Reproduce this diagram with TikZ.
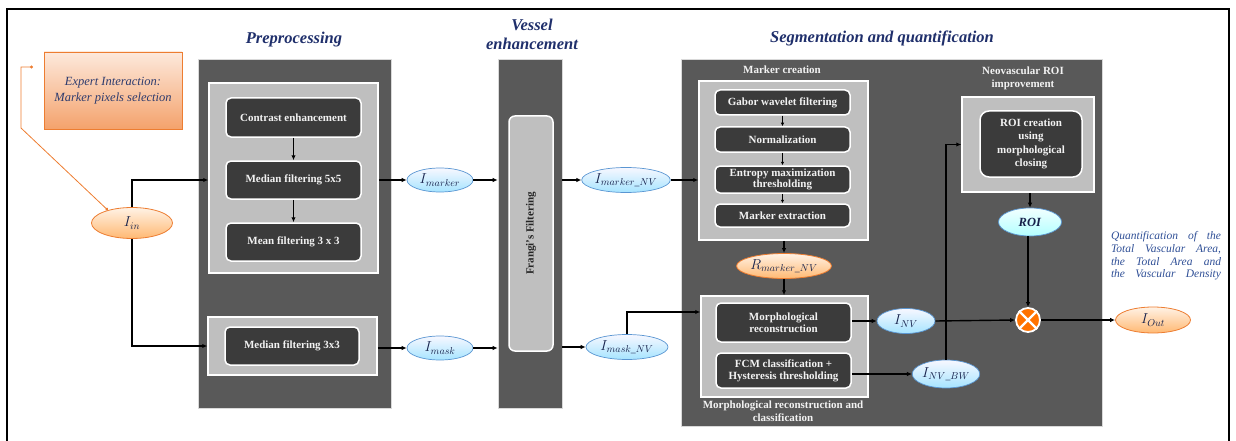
\documentclass[tikz,border=0pt]{standalone}
\usepackage{amsmath, amssymb}
\usepackage{fontspec}
\setmainfont{Liberation Serif}
\usepackage{tikz}
\usetikzlibrary{shapes.geometric, arrows.meta, positioning, calc}
\usepackage{xcolor}

\definecolor{panelgray}{HTML}{595959}
\definecolor{lightpanel}{HTML}{BFBFBF}
\definecolor{boxgray}{HTML}{3B3B3B}
\definecolor{navytitle}{HTML}{1F2F6B}
\definecolor{quantblue}{HTML}{2F4F96}
\definecolor{orangeline}{HTML}{ED7D31}
\definecolor{blueline}{HTML}{5A96D2}
\definecolor{peachtop}{HTML}{FDE9DC}
\definecolor{peachbottom}{HTML}{F4A26C}

\tikzset{
  panel/.style={fill=panelgray, draw=white!85!black, line width=0.6pt, inner sep=0pt},
  subpanel/.style={fill=lightpanel, draw=white, line width=1.5pt, inner sep=0pt},
  procbox/.style={fill=boxgray, draw=white, line width=1.5pt, rounded corners=5pt,
    text=white!95!black, align=center, inner sep=1pt,
    font=\fontsize{11}{12.3}\selectfont\bfseries},
  panellabel/.style={text=white!95!black, align=center, font=\fontsize{11}{13}\selectfont\bfseries},
  steptitle/.style={text=navytitle, align=center, font=\fontsize{16.5}{19}\selectfont\bfseries\itshape},
  bluedata/.style={ellipse, draw=blueline, line width=0.7pt, top color=blue!3,
    bottom color=blue!30!cyan!35, inner sep=0pt, text=navytitle!70!black, font=\fontsize{14}{15}\selectfont},
  cyandata/.style={bluedata, top color=cyan!5, bottom color=cyan!30},
  orangedata/.style={ellipse, draw=orangeline, line width=0.8pt, top color=orange!10,
    bottom color=orange!55!white, inner sep=0pt, text=navytitle!70!black, font=\fontsize{14}{15}\selectfont},
  flow/.style={-{Latex[length=5pt,width=4.5pt]}, line width=1.4pt, black},
  smallflow/.style={-{Latex[length=3.5pt,width=3.5pt]}, line width=1.1pt, black}
}

\begin{document}
\begin{tikzpicture}[x=1pt, y=-1pt]
\useasboundingbox (0,0) rectangle (1236,441);
\draw[line width=1.2pt] (7,450) -- (7,9) -- (1229,9) -- (1229,450);

% titles
\node[steptitle] (tprep) at (294,40) {Preprocessing};
\node[steptitle, font=\fontsize{16.5}{19}\selectfont\bfseries\itshape] (tvessel) at (532,34) {Vessel\\enhancement};
\node[steptitle] (tseg) at (882,38) {Segmentation and quantification};

% expert interaction
\node[draw=orangeline, line width=0.8pt, top color=peachtop, bottom color=peachbottom,
  minimum width=138pt, minimum height=77pt, align=center, text=navytitle!85!gray,
  font=\fontsize{12.5}{15.5}\selectfont\itshape] (expert) at (113,90.5)
  {Expert Interaction:\\Marker pixels selection};
\node[orangedata, minimum width=81pt, minimum height=31pt] (Iin) at (132,223) {$I_{in}$};
\coordinate (expdot) at (33,67);
\coordinate (expbend) at (21,67);
\coordinate (expknee) at (21,128);
\draw[orangeline, line width=0.8pt, {Circle[length=3pt]}-{Circle[length=3pt]}]
  (expdot) -- (expbend) -- (expknee) -- (Iin.152);

% preprocessing
\node[panel, minimum width=193pt, minimum height=349pt] (prep) at (294.5,233.5) {};
\node[subpanel, minimum width=169pt, minimum height=190pt] (prepup) at (293.5,178) {};
\node[procbox, minimum width=135pt, minimum height=39pt] (contrast) at (293.5,117.5) {Contrast enhancement};
\node[procbox, minimum width=135pt, minimum height=38pt] (median5) at (293.5,180) {Median filtering 5x5};
\node[procbox, minimum width=135pt, minimum height=38pt] (mean3) at (293.5,242) {Mean filtering 3 x 3};
\node[subpanel, minimum width=169pt, minimum height=58pt] (preplow) at (292.5,346) {};
\node[procbox, minimum width=134pt, minimum height=38pt] (median3) at (292,346) {Median filtering 3x3};

\draw[flow] (contrast) -- (median5);
\draw[flow] (median5) -- (mean3);
\draw[flow] (Iin.north) |- (median5 -| prepup.west);
\draw[flow] (Iin.south) |- (preplow.west);

% vessel enhancement
\node[bluedata, minimum width=66pt, minimum height=24pt] (Imarker) at (440,180) {$I_{marker}$};
\node[bluedata, minimum width=66pt, minimum height=24pt] (Imask) at (440,348) {$I_{mask}$};
\node[panel, minimum width=64pt, minimum height=349pt] (vessel) at (530,233.5) {};
\node[subpanel, rounded corners=6pt, rotate=90, minimum width=235pt, minimum height=44pt,
  text=black!85, font=\fontsize{11}{12}\selectfont\bfseries] (frangi) at (531,233.5) {Frangi's Filtering};
\node[bluedata, minimum width=84pt, minimum height=25pt] (ImarkerNV) at (626,180) {$I_{marker\_NV}$};
\node[bluedata, minimum width=82pt, minimum height=25pt] (ImaskNV) at (627,347) {$I_{mask\_NV}$};

\draw[flow] (median5 -| prepup.east) -- (Imarker.west);
\draw[flow] (preplow.east |- Imask) -- (Imask.west);
\draw[flow] (Imarker.east) -- (Imarker -| vessel.west);
\draw[flow] (Imask.east) -- (Imask -| vessel.west);
\draw[flow] (ImarkerNV -| vessel.east) -- (ImarkerNV.west);
\draw[flow] (ImaskNV -| vessel.east) -- (ImaskNV.west);

% segmentation and quantification
\node[panel, minimum width=421pt, minimum height=367pt] (seg) at (891.5,242.5) {};
\node[panellabel] (lmarker) at (782,70) {Marker creation};
\node[subpanel, minimum width=169pt, minimum height=159pt] (markerpanel) at (783.5,160.5) {};
\node[procbox, minimum width=135pt, minimum height=25pt] (gabor) at (782.5,102.5) {Gabor wavelet filtering};
\node[procbox, minimum width=135pt, minimum height=25pt] (norm) at (782.5,139.5) {Normalization};
\node[procbox, minimum width=135pt, minimum height=27pt, font=\fontsize{11}{11.5}\selectfont\bfseries] (entropy) at (782.5,179.5) {Entropy maximization\\thresholding};
\node[procbox, minimum width=135pt, minimum height=23pt] (extract) at (782.5,215.5) {Marker extraction};
\node[orangedata, minimum width=87pt, minimum height=25pt] (Rmarker) at (784,266) {$R_{marker\_NV}$};
\node[subpanel, minimum width=167pt, minimum height=101pt] (morphpanel) at (784.5,346.5) {};
\node[procbox, minimum width=135pt, minimum height=39pt] (morph) at (783.5,322.5) {Morphological\\reconstruction};
\node[procbox, minimum width=135pt, minimum height=35pt] (fcm) at (783.5,370.5) {FCM classification +\\Hysteresis thresholding};
\node[panellabel] (lmorph) at (783,411.5) {Morphological reconstruction and\\classification};
\node[bluedata, minimum width=58pt, minimum height=25pt] (INV) at (906,321) {$I_{NV}$};
\node[bluedata, minimum width=62pt, minimum height=28pt] (INVBW) at (946,374) {$I_{NV\_BW}$};

\node[panellabel] (lroi) at (1023,78.5) {Neovascular ROI\\improvement};
\node[subpanel, minimum width=132pt, minimum height=95pt] (roipanel) at (1028,144.5) {};
\node[procbox, rounded corners=9pt, minimum width=102pt, minimum height=66pt,
  font=\fontsize{11}{13.3}\selectfont\bfseries] (roibox) at (1031,144) {ROI creation\\using\\morphological\\closing};
\node[cyandata, minimum width=63pt, minimum height=28pt, font=\fontsize{12.5}{14}\selectfont] (ROI) at (1030,222) {\textbf{\textit{ROI}}};
\node[circle, draw=white, line width=1.8pt, fill=orange!90!red, minimum size=24pt, inner sep=0pt] (mult) at (1028,320) {};
\draw[white, line width=2.4pt] (mult.45) -- (mult.225) (mult.135) -- (mult.315);
\node[orangedata, minimum width=75pt, minimum height=26pt] (Iout) at (1153,320) {$I_{Out}$};
\node[align=left, text=quantblue, font=\fontsize{11.5}{12.7}\selectfont\itshape] (quant) at (1166,256)
  {\makebox[110pt][s]{Quantification of the}\\\makebox[110pt][s]{Total Vascular Area,}\\
   \makebox[110pt][s]{the Total Area and}\\\makebox[110pt][s]{the Vascular Density}};

\draw[smallflow] (gabor) -- (norm);
\draw[smallflow] (norm) -- (entropy);
\draw[smallflow] (entropy) -- (extract);
\draw[flow] (ImarkerNV.east) -- (ImarkerNV -| markerpanel.west);
\draw[flow] (markerpanel.south -| Rmarker) -- (Rmarker.north);
\draw[flow] (Rmarker.south) -- (morphpanel.north -| Rmarker);
\draw[flow] (ImaskNV.north) |- ($(morphpanel.west)+(0,-34.5)$);
\draw[flow] (morph.east |- INV) -- (INV.west);
\draw[flow] (fcm.east |- INVBW) -- (INVBW.west);
\draw[flow] (INVBW.north) |- (roipanel.west);
\draw[flow] (INV.east) -- (mult.west);
\draw[flow] (roipanel.south -| ROI) -- (ROI.north);
\draw[flow] (ROI.south -| mult) -- (mult.north);
\draw[flow] (mult.east) -- (Iout.west);
\end{tikzpicture}
\end{document}
